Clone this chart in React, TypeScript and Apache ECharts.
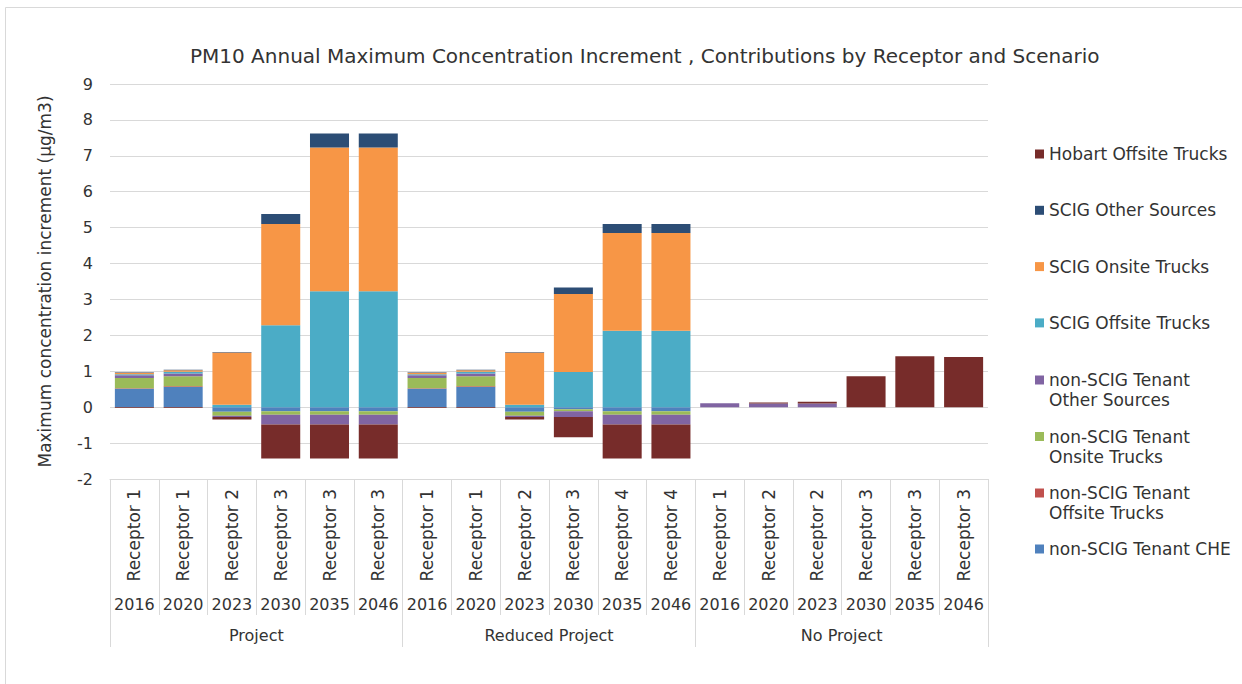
import React, { useEffect, useRef } from "react";
import * as echarts from "echarts";

const receptors = [
  "Receptor 1", "Receptor 1", "Receptor 2", "Receptor 3", "Receptor 3", "Receptor 3",
  "Receptor 1", "Receptor 1", "Receptor 2", "Receptor 3", "Receptor 4", "Receptor 4",
  "Receptor 1", "Receptor 2", "Receptor 2", "Receptor 3", "Receptor 3", "Receptor 3",
];
const years = [
  "2016", "2020", "2023", "2030", "2035", "2046",
  "2016", "2020", "2023", "2030", "2035", "2046",
  "2016", "2020", "2023", "2030", "2035", "2046",
];
const scenarios = ["Project", "Reduced Project", "No Project"];

const nonScigChe = [0.51, 0.56, -0.13, -0.11, -0.11, -0.11, 0.51, 0.56, -0.13, -0.06, -0.11, -0.11, null, null, null, null, null, null];
const nonScigOffsite = [0.02, 0.02, null, null, null, null, 0.02, 0.02, null, null, null, null, null, null, null, null, null, null];
const nonScigOnsite = [0.28, 0.28, -0.11, -0.1, -0.1, -0.1, 0.28, 0.28, -0.11, -0.05, -0.1, -0.1, null, null, null, null, null, null];
const nonScigOther = [0.08, 0.08, -0.03, -0.27, -0.27, -0.27, 0.08, 0.08, -0.03, -0.16, -0.27, -0.27, 0.11, 0.1, 0.1, null, null, null];
const scigOffsite = [0.03, 0.05, 0.07, 2.28, 3.23, 3.23, 0.03, 0.05, 0.07, 0.98, 2.13, 2.13, null, null, null, null, null, null];
const scigOnsite = [0.04, 0.04, 1.45, 2.82, 4.0, 4.0, 0.04, 0.04, 1.45, 2.17, 2.72, 2.72, null, null, null, null, null, null];
const scigOther = [0.01, 0.01, 0.02, 0.28, 0.39, 0.39, 0.01, 0.01, 0.02, 0.18, 0.25, 0.25, null, null, null, null, null, null];
const hobartOffsite = [-0.02, -0.02, -0.07, -0.95, -0.95, -0.95, -0.02, -0.02, -0.07, -0.57, -0.95, -0.95, null, 0.03, 0.05, 0.86, 1.42, 1.4];

const seriesDefs = [
  { name: "non-SCIG Tenant CHE", data: nonScigChe, color: "#4F81BD" },
  { name: "non-SCIG Tenant Offsite Trucks", data: nonScigOffsite, color: "#C0504D" },
  { name: "non-SCIG Tenant Onsite Trucks", data: nonScigOnsite, color: "#9BBB59" },
  { name: "non-SCIG Tenant Other Sources", data: nonScigOther, color: "#8064A2" },
  { name: "SCIG Offsite Trucks", data: scigOffsite, color: "#4BACC6" },
  { name: "SCIG Onsite Trucks", data: scigOnsite, color: "#F79646" },
  { name: "SCIG Other Sources", data: scigOther, color: "#2C4D75" },
  { name: "Hobart Offsite Trucks", data: hobartOffsite, color: "#772C2A" },
];

const FONT = "DejaVu Sans";
const TXT = "#333333";
const GRID = "#D9D9D9";

export default function App() {
  const ref = useRef<HTMLDivElement>(null);
  useEffect(() => {
    const chart = echarts.init(ref.current!, null, { renderer: "svg" });
    // two-line entries get an empty leading line so the marker sits on the first text line
    const legendFormatter = (n: string) =>
      n.startsWith("non-SCIG Tenant ") && n !== "non-SCIG Tenant CHE"
        ? " \n" + n.replace("non-SCIG Tenant ", "non-SCIG Tenant\n")
        : n;
    const legendCommon = {
      orient: "vertical",
      left: 1035,
      padding: 0,
      itemWidth: 9,
      itemHeight: 9,
      icon: "rect",
      formatter: legendFormatter,
      textStyle: { fontFamily: FONT, fontSize: 17, color: TXT, lineHeight: 20 },
    };
    chart.setOption({
      animation: false,
      backgroundColor: "#fff",
      textStyle: { fontFamily: FONT },
      title: {
        text: "PM10 Annual Maximum Concentration Increment , Contributions by Receptor and Scenario",
        left: 190,
        top: 46,
        padding: 0,
        textStyle: { fontFamily: FONT, fontSize: 20, fontWeight: "normal", color: TXT },
      },
      graphic: [
        {
          type: "rect",
          shape: { x: 5.5, y: 7.5, width: 1240, height: 680 },
          style: { fill: "none", stroke: GRID, lineWidth: 1 },
          silent: true,
        },
      ],
      legend: [
        {
          ...legendCommon,
          top: 144,
          itemGap: 36.3,
          data: ["Hobart Offsite Trucks", "SCIG Other Sources", "SCIG Onsite Trucks", "SCIG Offsite Trucks"],
        },
        {
          ...legendCommon,
          top: 350,
          itemGap: -3.5,
          data: [
            "non-SCIG Tenant Other Sources",
            "non-SCIG Tenant Onsite Trucks",
            "non-SCIG Tenant Offsite Trucks",
          ],
        },
        {
          ...legendCommon,
          top: 539,
          data: ["non-SCIG Tenant CHE"],
        },
      ],
      grid: { left: 110, top: 84, width: 878, height: 395, containLabel: false },
      xAxis: [
        {
          type: "category",
          data: receptors,
          position: "bottom",
          axisLine: { show: true, onZero: false, lineStyle: { color: GRID } },
          axisTick: { show: true, interval: 0, length: 136, lineStyle: { color: GRID } },
          axisLabel: { interval: 0, rotate: 90, margin: 10, fontFamily: FONT, fontSize: 17, color: TXT },
        },
        {
          type: "category",
          data: years,
          position: "bottom",
          offset: 117,
          axisLine: { show: false, onZero: false },
          axisTick: { show: false },
          axisLabel: { interval: 0, margin: 0, fontFamily: FONT, fontSize: 16, color: TXT },
        },
        {
          type: "category",
          data: scenarios,
          position: "bottom",
          axisLine: { show: false, onZero: false },
          axisTick: { show: true, interval: 0, length: 168, lineStyle: { color: GRID } },
          axisLabel: { interval: 0, margin: 148, fontFamily: FONT, fontSize: 16, color: TXT },
        },
      ],
      yAxis: {
        type: "value",
        min: -2,
        max: 9,
        interval: 1,
        name: "Maximum concentration increment (µg/m3)",
        nameLocation: "middle",
        nameGap: 57,
        nameRotate: 90,
        nameTextStyle: { fontFamily: FONT, fontSize: 17, color: TXT },
        axisLine: { show: false },
        axisTick: { show: false },
        splitLine: { lineStyle: { color: GRID } },
        axisLabel: { margin: 17, fontFamily: FONT, fontSize: 16, color: TXT },
      },
      series: seriesDefs.map((s) => ({
        name: s.name,
        type: "bar",
        stack: "total",
        xAxisIndex: 0,
        barCategoryGap: "20%",
        data: s.data,
        itemStyle: { color: s.color },
      })),
    });
    return () => chart.dispose();
  }, []);
  return (
    <div
      ref={ref}
      style={{ position: "fixed", left: 0, top: 0, width: 1242, height: 684 }}
    />
  );
}
